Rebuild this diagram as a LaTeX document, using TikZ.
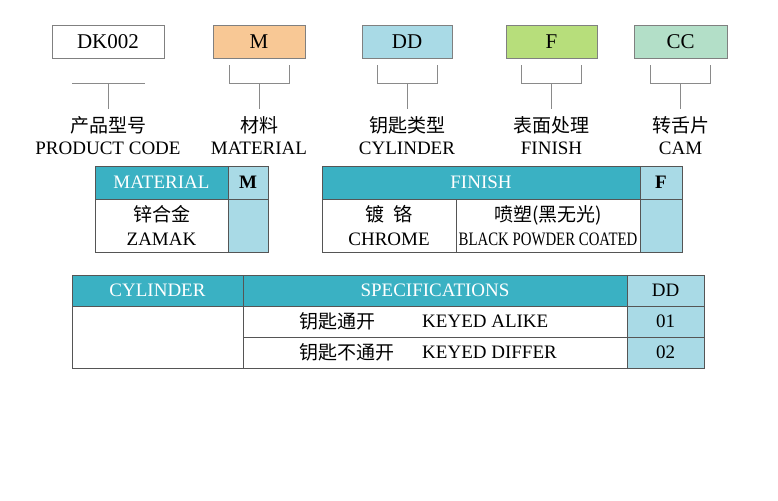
\documentclass[tikz,border=0pt]{standalone}
\usepackage{fontspec}
\usepackage{graphicx}
\setmainfont{Liberation Serif}
\newfontfamily\cjk{Noto Sans CJK SC}
\definecolor{tealhd}{HTML}{3AB1C3}
\definecolor{codeblue}{HTML}{A9DAE6}
\definecolor{orangebox}{HTML}{F8C895}
\definecolor{greenbox}{HTML}{B7DE7B}
\definecolor{mintbox}{HTML}{B3DFC8}
\definecolor{gridc}{HTML}{555555}
\definecolor{brackc}{HTML}{8A8A8A}
\tikzset{
  tagbox/.style={draw=gray, line width=0.8pt, minimum height=33, inner sep=0pt, font=\fontsize{21}{22}\selectfont},
  cnlab/.style={font=\cjk\fontsize{19}{20}\selectfont, inner sep=0pt},
  enlab/.style={font=\fontsize{19}{20}\selectfont, inner sep=0pt},
  brk/.style={draw=brackc, line width=0.9pt},
  cell/.style={draw=gridc, line width=0.8pt, inner sep=0pt, outer sep=0pt, anchor=north west, align=center, font=\fontsize{19}{24}\selectfont},
  head/.style={cell, fill=tealhd, text=white},
  codecell/.style={cell, fill=codeblue},
}
\begin{document}
\begin{tikzpicture}[x=1pt,y=-1pt]
	\useasboundingbox (0,0) rectangle (778,500);
	% code boxes
	\node[tagbox, minimum width=112] (code) at (108,41.5) {DK002};
	\node[tagbox, minimum width=92, fill=orangebox] (mat) at (259,41.5) {M};
	\node[tagbox, minimum width=90, fill=codeblue] (cyl) at (407,41.5) {DD};
	\node[tagbox, minimum width=91, fill=greenbox] (fin) at (551.5,41.5) {F};
	\node[tagbox, minimum width=93, fill=mintbox] (cam) at (680.5,41.5) {CC};
	% brackets
	\draw[brk] ([xshift=-36pt]code.south) ++(0,25) -- ++(73,0);
	\draw[brk] (code.south) ++(0,25) -- ++(0,26);
	\foreach \b in {mat,cyl,fin,cam}{
		\draw[brk] ([xshift=-30pt]\b.south) ++(0,7) |- ++(60,18) -- ++(0,-18);
		\draw[brk] (\b.south) ++(0,25) -- ++(0,26);
	}
	% labels
	\node[cnlab] (code-cn) at (code |- 0,125) {产品型号};
	\node[enlab] (code-en) at (code |- 0,148) {PRODUCT CODE};
	\node[cnlab] (mat-cn) at (mat |- 0,125) {材料};
	\node[enlab] (mat-en) at (mat |- 0,148) {MATERIAL};
	\node[cnlab] (cyl-cn) at (cyl |- 0,125) {钥匙类型};
	\node[enlab] (cyl-en) at (cyl |- 0,148) {CYLINDER};
	\node[cnlab] (fin-cn) at (fin |- 0,125) {表面处理};
	\node[enlab] (fin-en) at (fin |- 0,148) {FINISH};
	\node[cnlab] (cam-cn) at (cam |- 0,125) {转舌片};
	\node[enlab] (cam-en) at (cam |- 0,148) {CAM};
	% material table
	\node[head, minimum width=133, minimum height=33] (mathd) at (95,166) {MATERIAL};
	\node[codecell, minimum width=40, minimum height=33] (matcd) at (mathd.north east) {\bfseries M};
	\node[cell, minimum width=133, minimum height=53] (zamak) at (mathd.south west) {{\cjk 锌合金}\\ZAMAK};
	\node[codecell, minimum width=40, minimum height=53] (matval) at (zamak.north east) {};
	% finish table
	\node[head, minimum width=318, minimum height=33] (finhd) at (322,166) {FINISH};
	\node[codecell, minimum width=42, minimum height=33] (fincd) at (finhd.north east) {\bfseries F};
	\node[cell, minimum width=134, minimum height=53] (chrome) at (finhd.south west) {{\cjk 镀\hspace{0.5em}铬}\\CHROME};
	\node[cell, minimum width=184, minimum height=53] (powder) at (chrome.north east) {{\cjk 喷塑(黑无光)}\\\scalebox{0.78}[1]{BLACK POWDER COATED}};
	\node[codecell, minimum width=42, minimum height=53] (finval) at (powder.north east) {};
	% cylinder table
	\node[head, minimum width=171, minimum height=31] (cylhd) at (72,275) {CYLINDER};
	\node[head, minimum width=384, minimum height=31] (spechd) at (cylhd.north east) {SPECIFICATIONS};
	\node[codecell, minimum width=77, minimum height=31] (cylcd) at (spechd.north east) {DD};
	\node[cell, minimum width=171, minimum height=62] (cylbody) at (cylhd.south west) {};
	\node[cell, minimum width=384, minimum height=31] (alike) at (spechd.south west) {};
	\node[cell, minimum width=384, minimum height=31] (differ) at (alike.south west) {};
	\node[codecell, minimum width=77, minimum height=31] (alikecd) at (alike.north east) {01};
	\node[codecell, minimum width=77, minimum height=31] (differcd) at (differ.north east) {02};
	\node[cnlab, anchor=west] (alike-cn) at ([xshift=56]alike.west) {钥匙通开};
	\node[enlab, anchor=west] (alike-en) at ([xshift=179]alike.west) {KEYED ALIKE};
	\node[cnlab, anchor=west] (differ-cn) at ([xshift=56]differ.west) {钥匙不通开};
	\node[enlab, anchor=west] (differ-en) at ([xshift=179]differ.west) {KEYED DIFFER};
\end{tikzpicture}
\end{document}
